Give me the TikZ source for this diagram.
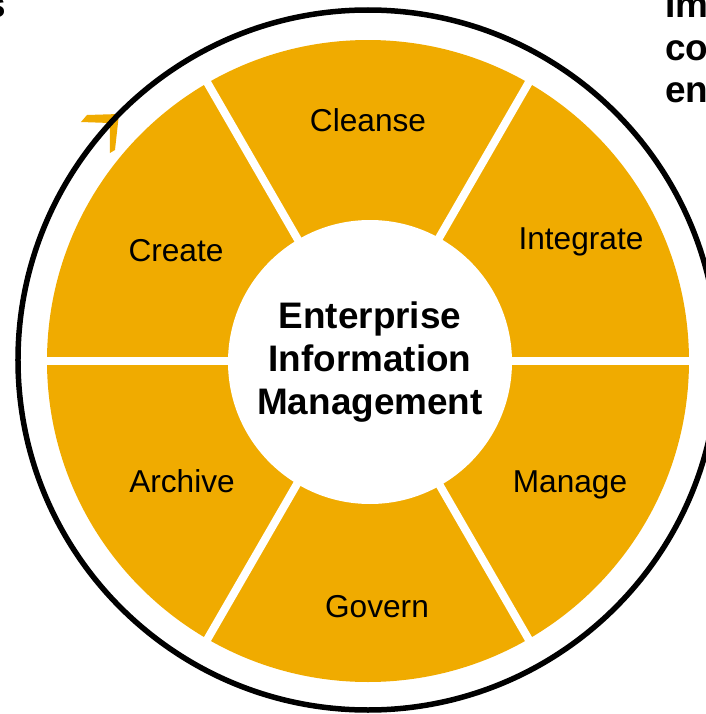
\documentclass[tikz,border=0pt]{standalone}
\usepackage{fontspec}
\setmainfont{Liberation Sans}
\definecolor{eimgold}{HTML}{F0AB00}
\tikzset{
  phase/.style={font=\fontsize{18}{21}\selectfont},
  sidetxt/.style={anchor=base west,inner sep=0pt,font=\fontsize{21}{24.7}\selectfont\bfseries}
}
\begin{document}
\begin{tikzpicture}
        \useasboundingbox (-7.36,-7.06) rectangle (6.74,7.22);
        % wheel
        \fill [eimgold] (0,0) circle (6.42);
        \foreach \a in {0,60,...,300}
            \draw [white,line width=0.16cm] (0,0)--(\a:6.6);
        \fill [white] (0.04,-0.02) circle (2.84);
        % arrow head and ring
        \fill [eimgold] (-5.74,4.78)--(-5.62,4.92)--(-4.98,4.94)--(-5.06,4.22)--(-5.16,4.16)--(-5.16,4.76)--cycle;
        \draw [line width=0.11cm] (0,0.02) circle (7.0);
        % phases
        \node [phase] (cleanse) at (0,4.82) {Cleanse};
        \node [phase] (integrate) at (4.26,2.38) {Integrate};
        \node [phase] (manage) at (4.04,-2.48) {Manage};
        \node [phase] (govern) at (0.18,-4.92) {Govern};
        \node [phase] (archive) at (-3.72,-2.4) {Archive};
        \node [phase] (create) at (-3.84,2.2) {Create};
        \node [align=center,font=\fontsize{21}{24.7}\selectfont\bfseries] (eim) at (0.04,-0.02) {Enterprise\\Information\\Management};
        % cut off text
        \node [sidetxt,anchor=base east] (lefttxt) at (-7.24,6.88) {s};
        \node [sidetxt] (imtxt) at (5.94,6.88) {Im};
        \node [sidetxt] (cotxt) at (5.94,6.02) {co};
        \node [sidetxt] (entxt) at (5.94,5.16) {en};
\end{tikzpicture}
\end{document}
